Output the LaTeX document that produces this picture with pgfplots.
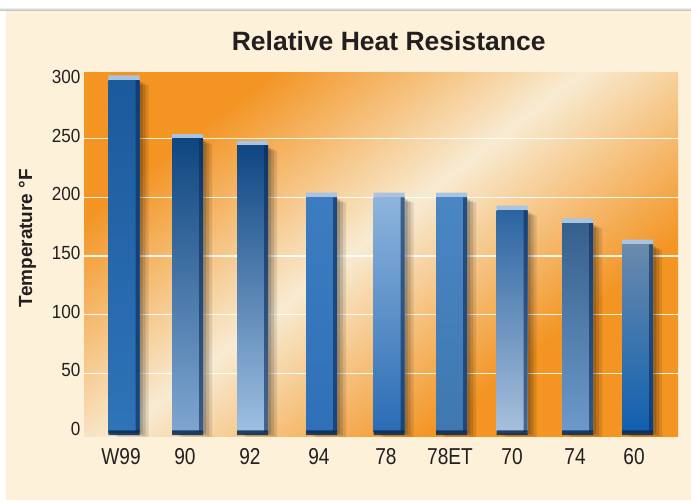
\documentclass[border=0pt]{standalone}
\usepackage{pgfplots}
\pgfplotsset{compat=1.18}
\usepackage{fontspec}
\setmainfont{Liberation Sans}
\newfontfamily\narrowfont[FakeStretch=0.83]{Liberation Sans}
\newfontfamily\ynarrowfont[FakeStretch=0.9]{Liberation Sans}
\definecolor{cream}{HTML}{FDF1DA}
\definecolor{orng}{HTML}{F39423}
\definecolor{band}{HTML}{F8EBD2}
\definecolor{capc}{HTML}{A9C4E0}
\definecolor{navy}{HTML}{0A2A55}
\definecolor{txt}{HTML}{231F20}
% bar colours: top / middle / bottom
\definecolor{aT}{HTML}{1B5A9C}\definecolor{aM}{HTML}{0C3C70}\definecolor{aB}{HTML}{2F74B8}
\definecolor{bT}{HTML}{0F4680}\definecolor{bM}{HTML}{1A5A9A}\definecolor{bB}{HTML}{7FA6D0}
\definecolor{cT}{HTML}{0F4682}\definecolor{cM}{HTML}{1C5FA0}\definecolor{cB}{HTML}{9EC0E2}
\definecolor{dT}{HTML}{3D7CC0}\definecolor{dM}{HTML}{8FB6DE}\definecolor{dB}{HTML}{2F70B8}
\definecolor{eT}{HTML}{8EB4DC}\definecolor{eM}{HTML}{3A7CC0}\definecolor{eB}{HTML}{2A6CB4}
\definecolor{fT}{HTML}{4A86C4}\definecolor{fM}{HTML}{2F70B4}\definecolor{fB}{HTML}{3F78B0}
\definecolor{gT}{HTML}{2C64A0}\definecolor{gM}{HTML}{3A6898}\definecolor{gB}{HTML}{A8C0DC}
\definecolor{hT}{HTML}{365F8C}\definecolor{hM}{HTML}{A8C2DC}\definecolor{hB}{HTML}{6D9ACB}
\definecolor{iT}{HTML}{6A8AAC}\definecolor{iM}{HTML}{AAC4DE}\definecolor{iB}{HTML}{1060B0}

\pgfdeclarehorizontalshading{bandsh}{100bp}{color(0bp)=(orng); color(38bp)=(orng); color(50bp)=(band); color(62bp)=(orng); color(100bp)=(orng)}

\pgfplotstableread{
x    val
124  300
187.5 250
252.5 244
321.5 200
389  200
451.5 200
512  189
577.5 178
637.5 160
}\bars

\begin{document}
\begin{tikzpicture}[x=1pt,y=1pt]
% page
\fill[white] (0,0) rectangle (691,502);
\shade[top color=white, bottom color=black!30] (0,491) rectangle (691,495);
\fill[cream] (6,2) rectangle (691,491);
% plot-area background with diagonal light band
\begin{scope}
\clip (84,65.3) rectangle (678,429.5);
\shade[shading=bandsh, shading angle=128] (-45,-148) rectangle (755,652);
\end{scope}

\begin{axis}[
  at={(84pt,65.3pt)}, anchor=south west,
  scale only axis, width=594pt, height=363.7pt,
  xmin=84, xmax=678, ymin=-4, ymax=306,
  axis line style={draw=none}, tick style={draw=none},
  /pgf/number format/assume math mode=true,
  ytick={0,50,...,300},
  extra y ticks={50,100,150,200,250},
  extra y tick labels={},
  extra y tick style={ymajorgrids=true, grid style={white, line width=1.3pt, opacity=0.9}},
  xtick={121,185,250,319,386,450,512,575,634},
  xticklabels={W99,90,92,94,78,78ET,70,74,60},
  xticklabel style={font=\narrowfont\fontsize{23}{26}\selectfont, text=txt, anchor=base, yshift=-23.5pt},
  yticklabel style={font=\ynarrowfont\fontsize{19}{22}\selectfont, text=txt, yshift=3pt},
  ylabel={Temperature °F},
  ylabel style={font=\bfseries\fontsize{19}{22}\selectfont, text=txt,
    at={(axis description cs:-0.095,0.546)}, anchor=center},
  title={Relative Heat Resistance},
  title style={font=\bfseries\fontsize{26.5}{30}\selectfont, text=txt,
    at={(axis description cs:0.513,1.0448)}, anchor=base},
  ybar, bar width=31,
]
% shadows
\addplot[ybar, bar width=31, bar shift=3pt, yshift=-2pt, draw=none, fill=black, fill opacity=0.15] table[x=x,y=val] {\bars};
\addplot[ybar, bar width=31, bar shift=6pt, yshift=-3.5pt, draw=none, fill=black, fill opacity=0.13] table[x=x,y=val] {\bars};
\addplot[ybar, bar width=31, bar shift=9pt, yshift=-5pt, draw=none, fill=black, fill opacity=0.10] table[x=x,y=val] {\bars};
% bevel caps
\addplot[ybar, bar width=31, bar shift=0pt, draw=none, fill=capc] coordinates {(124,304) (187.5,254) (252.5,248) (321.5,204) (389,204) (451.5,204) (512,193) (577.5,182) (637.5,164)};
% bars
\addplot[ybar, bar width=31, bar shift=0pt, draw=none, top color=aT, middle color=aM, bottom color=aB] coordinates {(124,300)};
\addplot[ybar, bar width=31, bar shift=0pt, draw=none, top color=bT, middle color=bM, bottom color=bB] coordinates {(187.5,250)};
\addplot[ybar, bar width=31, bar shift=0pt, draw=none, top color=cT, middle color=cM, bottom color=cB] coordinates {(252.5,244)};
\addplot[ybar, bar width=31, bar shift=0pt, draw=none, top color=dT, middle color=dM, bottom color=dB] coordinates {(321.5,200)};
\addplot[ybar, bar width=31, bar shift=0pt, draw=none, top color=eT, middle color=eM, bottom color=eB] coordinates {(389,200)};
\addplot[ybar, bar width=31, bar shift=0pt, draw=none, top color=fT, middle color=fM, bottom color=fB] coordinates {(451.5,200)};
\addplot[ybar, bar width=31, bar shift=0pt, draw=none, top color=gT, middle color=gM, bottom color=gB] coordinates {(512,189)};
\addplot[ybar, bar width=31, bar shift=0pt, draw=none, top color=hT, middle color=hM, bottom color=hB] coordinates {(577.5,178)};
\addplot[ybar, bar width=31, bar shift=0pt, draw=none, top color=iT, middle color=iM, bottom color=iB] coordinates {(637.5,160)};
% dark right edge
\addplot[ybar, bar width=4, bar shift=13.5pt, draw=none, fill=navy, fill opacity=0.6] table[x=x,y=val] {\bars};
% dark base
\addplot[ybar, bar width=31, bar shift=0pt, yshift=-3pt, draw=none, fill=navy, fill opacity=0.85] coordinates {(124,4) (187.5,4) (252.5,4) (321.5,4) (389,4) (451.5,4) (512,4) (577.5,4) (637.5,4)};
\end{axis}
\end{tikzpicture}
\end{document}
